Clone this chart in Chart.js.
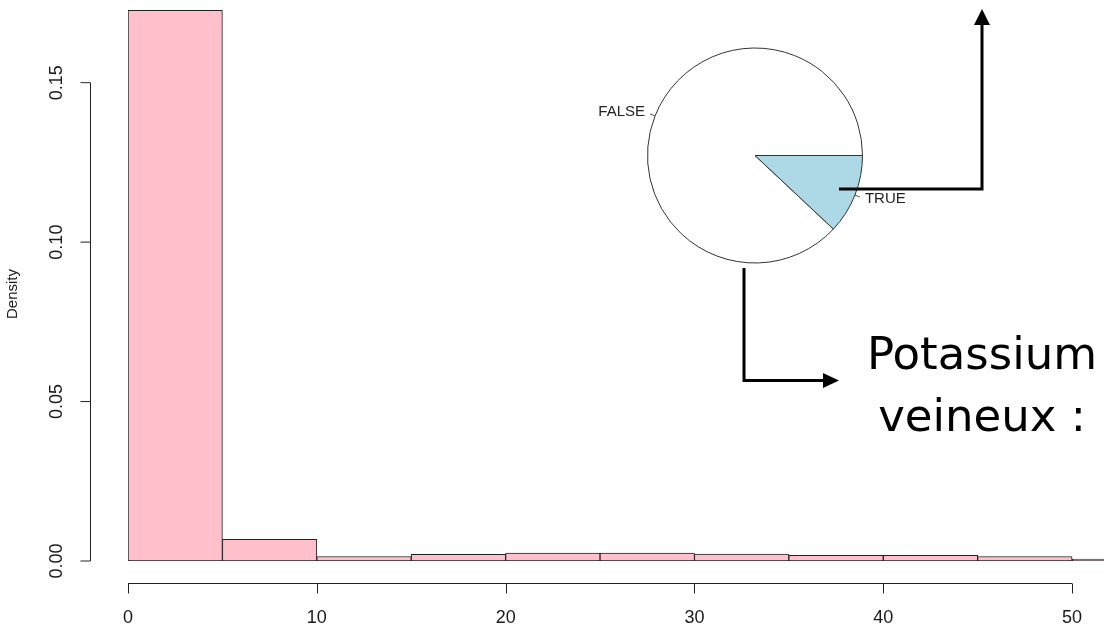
<!DOCTYPE html>
<html>
<head>
<meta charset="utf-8">
<script src="https://cdn.jsdelivr.net/npm/chart.js@4/dist/chart.umd.min.js"></script>
<style>
    body { margin: 0; background: #fff; }
    #wrap { position: relative; width: 1104px; height: 629px; overflow: hidden; }
    #wrap canvas { position: absolute; left: 0; top: 0; }
</style>
</head>
<body>
<div id="wrap">
    <canvas id="histChart" width="1104" height="629"></canvas>
    <canvas id="pieChart" width="1104" height="629"></canvas>
</div>
<script>
// ===== DATA =====
const binWidth = 5;
const binStarts = [0, 5, 10, 15, 20, 25, 30, 35, 40, 45, 50];
const densities = [0.1727, 0.0068, 0.0014, 0.0021, 0.0025, 0.0025, 0.0022, 0.0018, 0.0018, 0.0014, 0.0006];

const xTicks = [0, 10, 20, 30, 40, 50];
const yTicks = [0, 0.05, 0.10, 0.15];
const yTickLabels = ['0.00', '0.05', '0.10', '0.15'];
const yTitle = 'Density';

const pieLabels = ['FALSE', 'TRUE'];
const pieValues = [0.88, 0.12];
const pieColors = ['#ffffff', '#add8e6'];

const noteLines = ['Potassium', 'veineux :'];

const AXIS_FONT = '"Liberation Sans", Arial, sans-serif';

// ===== R STYLE AXES =====
const rAxesPlugin = {
    id: 'rAxes',
    afterDraw(chart) {
        const ctx = chart.ctx;
        const xs = chart.scales.x;
        const ys = chart.scales.y;

        ctx.save();
        ctx.strokeStyle = '#222';
        ctx.fillStyle = '#1a1a1a';
        ctx.lineWidth = 1;

        // y axis
        const axX = 90.5;
        ctx.beginPath();
        ctx.moveTo(axX, ys.getPixelForValue(yTicks[0]));
        ctx.lineTo(axX, ys.getPixelForValue(yTicks[yTicks.length - 1]));
        yTicks.forEach(v => {
            const py = ys.getPixelForValue(v);
            ctx.moveTo(axX, py);
            ctx.lineTo(axX - 10, py);
        });
        ctx.stroke();

        ctx.font = '18px ' + AXIS_FONT;
        ctx.textAlign = 'center';
        ctx.textBaseline = 'middle';
        yTicks.forEach((v, i) => {
            ctx.save();
            ctx.translate(57, ys.getPixelForValue(v));
            ctx.rotate(-Math.PI / 2);
            ctx.fillText(yTickLabels[i], 0, 0);
            ctx.restore();
        });

        // x axis
        const axY = 583.5;
        ctx.beginPath();
        ctx.moveTo(xs.getPixelForValue(xTicks[0]), axY);
        ctx.lineTo(xs.getPixelForValue(xTicks[xTicks.length - 1]), axY);
        xTicks.forEach(v => {
            const px = Math.round(xs.getPixelForValue(v)) + 0.5;
            ctx.moveTo(px, axY);
            ctx.lineTo(px, axY + 10);
        });
        ctx.stroke();

        xTicks.forEach(v => {
            ctx.fillText(String(v), xs.getPixelForValue(v), 618);
        });

        // y title
        ctx.font = '15px ' + AXIS_FONT;
        ctx.save();
        ctx.translate(13, 294);
        ctx.rotate(-Math.PI / 2);
        ctx.fillText(yTitle, 0, 0);
        ctx.restore();

        ctx.restore();
    }
};

// ===== HISTOGRAM =====
new Chart(document.getElementById('histChart'), {
    type: 'bar',
    data: {
        datasets: [{
            data: binStarts.map((s, i) => ({ x: s + binWidth / 2, y: densities[i] })),
            backgroundColor: '#ffc0cb',
            borderColor: '#222',
            borderWidth: 1,
            borderSkipped: false,
            barPercentage: 1,
            categoryPercentage: 1
        }]
    },
    options: {
        responsive: false,
        animation: false,
        layout: { padding: { left: 128, right: 0, top: 0, bottom: 68 } },
        scales: {
            x: { type: 'linear', min: 0, max: 51.69, offset: false, display: false },
            y: { min: 0, max: 0.17593, display: false }
        },
        plugins: {
            legend: { display: false },
            tooltip: { enabled: false }
        }
    },
    plugins: [rAxesPlugin]
});

// ===== PIE LABELS + NOTES =====
function drawArrow(ctx, pts, head, half) {
    ctx.beginPath();
    ctx.moveTo(pts[0][0], pts[0][1]);
    for (let i = 1; i < pts.length - 1; i++) ctx.lineTo(pts[i][0], pts[i][1]);
    const [tx, ty] = pts[pts.length - 1];
    const [px, py] = pts[pts.length - 2];
    const len = Math.hypot(tx - px, ty - py);
    const ux = (tx - px) / len, uy = (ty - py) / len;
    ctx.lineTo(tx - ux * head, ty - uy * head);
    ctx.stroke();

    ctx.beginPath();
    ctx.moveTo(tx, ty);
    ctx.lineTo(tx - ux * head - uy * half, ty - uy * head + ux * half);
    ctx.lineTo(tx - ux * head + uy * half, ty - uy * head - ux * half);
    ctx.closePath();
    ctx.fill();
}

const pieLabelPlugin = {
    id: 'pieLabels',
    afterDatasetsDraw(chart) {
        const ctx = chart.ctx;
        const arcs = chart.getDatasetMeta(0).data;
        ctx.save();
        ctx.font = '15px ' + AXIS_FONT;
        ctx.textBaseline = 'middle';
        arcs.forEach((arc, i) => {
            const mid = (arc.startAngle + arc.endAngle) / 2;
            const c = Math.cos(mid), s = Math.sin(mid);
            const r = arc.outerRadius;
            ctx.strokeStyle = '#555';
            ctx.lineWidth = 1;
            ctx.beginPath();
            ctx.moveTo(arc.x + c * r, arc.y + s * r);
            ctx.lineTo(arc.x + c * r * 1.05, arc.y + s * r * 1.05);
            ctx.stroke();
            ctx.fillStyle = '#222';
            ctx.textAlign = c > 0 ? 'left' : 'right';
            ctx.fillText(pieLabels[i], arc.x + c * r * 1.1, arc.y + s * r * 1.1);
        });
        ctx.restore();
    },
    afterDraw(chart) {
        const ctx = chart.ctx;
        ctx.save();
        ctx.strokeStyle = '#000';
        ctx.fillStyle = '#000';
        ctx.lineWidth = 3;
        ctx.lineCap = 'butt';
        ctx.lineJoin = 'miter';
        drawArrow(ctx, [[839, 189], [982, 189], [982, 9]], 16, 8);
        drawArrow(ctx, [[744, 268], [744, 380.5], [839, 380.5]], 16, 7.5);

        ctx.font = '45px "DejaVu Sans", Verdana, sans-serif';
        ctx.textAlign = 'center';
        ctx.textBaseline = 'alphabetic';
        ctx.fillText(noteLines[0], 982, 369);
        ctx.fillText(noteLines[1], 982, 431);
        ctx.restore();
    }
};

// ===== PIE INSET =====
new Chart(document.getElementById('pieChart'), {
    type: 'pie',
    data: {
        labels: pieLabels,
        datasets: [{
            data: pieValues,
            backgroundColor: pieColors,
            borderColor: '#333',
            borderWidth: 1
        }]
    },
    options: {
        responsive: false,
        animation: false,
        rotation: 90 + pieValues[1] / (pieValues[0] + pieValues[1]) * 360,
        layout: { padding: { left: 647, right: 241, top: 47, bottom: 365 } },
        plugins: {
            legend: { display: false },
            tooltip: { enabled: false }
        }
    },
    plugins: [pieLabelPlugin]
});
</script>
</body>
</html>
